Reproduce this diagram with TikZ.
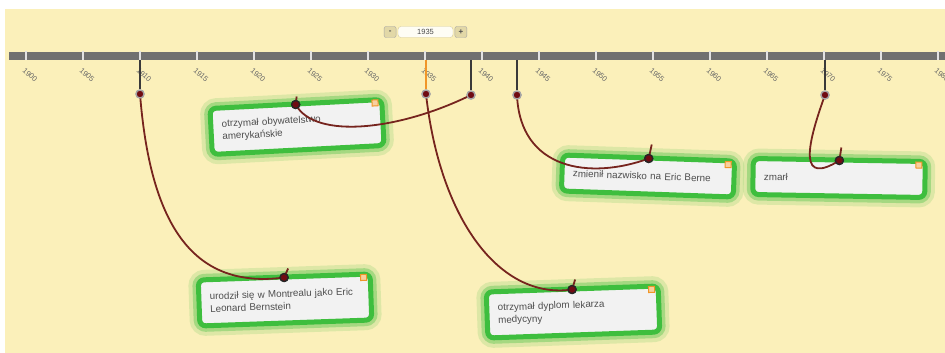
\documentclass[tikz,border=0pt]{standalone}
\usepackage{fontspec}
\setmainfont{Liberation Sans}
\usepackage{xcolor}
\usetikzlibrary{positioning, calc}

\definecolor{paper}{RGB}{251,240,186}
\definecolor{barGray}{RGB}{112,112,112}
\definecolor{stemGray}{RGB}{58,58,58}
\definecolor{linkRed}{RGB}{118,36,30}
\definecolor{dotRed}{RGB}{112,12,18}
\definecolor{glowGreen}{RGB}{62,190,62}
\definecolor{tagOrange}{RGB}{240,150,40}
\definecolor{txtGray}{RGB}{78,78,78}

\begin{document}
\begin{tikzpicture}[x=1pt, y=-1pt,
  event/.style={rectangle, rounded corners=6pt, draw=glowGreen, line width=5pt,
    fill=white!95!black, text width=150pt, align=left, inner xsep=11pt,
    font=\fontsize{9.8}{12.5}\selectfont, text=txtGray,
    preaction={draw=glowGreen!45!paper, line width=20pt, opacity=0.35},
    preaction={draw=glowGreen!70!paper, line width=12pt, opacity=0.55}},
  twoline/.style={event, minimum height=46pt},
  oneline/.style={event, minimum height=36pt},
  tag/.style={rectangle, draw=tagOrange, line width=1pt, fill=tagOrange!45!white,
    minimum size=6pt, inner sep=0pt},
  link/.style={draw=linkRed, line width=1.8pt},
  stem/.style={draw=stemGray, line width=2.2pt},
  tdot/.style={circle, fill=dotRed, draw=gray!70, line width=1.3pt,
    minimum size=8pt, inner sep=0pt},
  adot/.style={circle, fill=dotRed, draw=black!85, line width=1.3pt,
    minimum size=8pt, inner sep=0pt},
  btn/.style={rectangle, rounded corners=2pt, draw=black!35, fill=black!10!paper,
    minimum width=12pt, minimum height=11pt, inner sep=0pt,
    font=\fontsize{8}{8}\selectfont\bfseries, text=black!70},
  yearlabel/.style={font=\fontsize{7.5}{7.5}\selectfont, text=black!60, rotate=-42,
    inner sep=0pt},
]
\useasboundingbox (0,0) rectangle (945,353);
\clip (0,0) rectangle (945,353);
% ====== PAPER ======
\fill[paper] (5,9) rectangle (945,353);
%
% ====== YEAR SELECTOR ======
\node[rectangle, rounded corners=3pt, draw=black!15!paper, fill=white!85!paper,
  minimum width=55pt, minimum height=11pt, inner sep=0pt,
  font=\fontsize{7.5}{7.5}\selectfont, text=black!70] (field) at (425.5,32) {1935};
\node[btn, left=1.5pt of field] (minus) {-};
\node[btn, right=1.5pt of field] (plus) {+};
%
% ====== TIME AXIS ======
\fill[barGray] (9,52) rectangle (945,60);
\foreach \yr [count=\i from 0] in {1900,1905,...,1980} {
  \draw[white!80!barGray, line width=1.2pt] (26+57*\i,51.5) -- (26+57*\i,60.5);
  \node[yearlabel] at (30+57*\i,75) {\yr};
}
%
% ====== EVENT STEMS ======
\node[tdot] (d1910) at (140,94) {};
\node[tdot] (d1935) at (426,94) {};
\node[tdot] (d1939) at (471,95) {};
\node[tdot] (d1943) at (517,95) {};
\node[tdot] (d1970) at (825,95) {};
\draw[stem] (140,60) -- (d1910);
\draw[stem, draw=tagOrange] (426,60) -- (d1935);
\draw[stem] (471,60) -- (d1939);
\draw[stem] (517,60) -- (d1943);
\draw[stem] (825,60) -- (d1970);
%
% ====== EVENT BOXES ======
\node[twoline, rotate=3] (citizen) at (297,127)
  {otrzymał obywatelstwo\\amerykańskie};
\node[twoline, rotate=2] (born) at (285,300)
  {urodził się w Montrealu jako Eric\\Leonard Bernstein};
\node[twoline, rotate=2] (doctor) at (573,312)
  {otrzymał dyplom lekarza\\medycyny};
\node[oneline, rotate=-2] (rename) at (648,176)
  {zmienił nazwisko na Eric Berne};
\node[oneline, rotate=-1] (died) at (839,178) {zmarł};
\foreach \b/\r in {citizen/3, born/2, doctor/2, rename/-2, died/-1}
  \node[tag, rotate=\r] at ($(\b.north east)+(-9,6)$) {};
%
% ====== LINKS ======
\node[adot] (aCitizen) at ($(citizen.north)+(0,3)$) {};
\node[adot] (aBorn) at ($(born.north)+(0,3)$) {};
\node[adot] (aDoctor) at ($(doctor.north)+(0,3)$) {};
\node[adot] (aRename) at ($(rename.north)+(0,3)$) {};
\node[adot] (aDied) at ($(died.north)+(0,3)$) {};
\coordinate (tCitizen) at ($(aCitizen)+(1,-8)$);
\coordinate (tBorn) at ($(aBorn)+(4,-9)$);
\coordinate (tDoctor) at ($(aDoctor)+(3,-10)$);
\coordinate (tRename) at ($(aRename)+(3,-14)$);
\coordinate (tDied) at ($(aDied)+(2,-13)$);
\draw[link] (d1910.center) .. controls (150,220) and (190,290) .. (aBorn.center) -- (tBorn);
\draw[link] (d1935.center) .. controls (440,220) and (500,300) .. (aDoctor.center) -- (tDoctor);
\draw[link] (d1939.center) .. controls (400,130) and (315,140) .. (aCitizen.center) -- (tCitizen);
\draw[link] (d1943.center) .. controls (520,170) and (590,180) .. (aRename.center) -- (tRename);
\draw[link] (d1970.center) .. controls (805,150) and (800,185) .. (aDied.center) -- (tDied);
% dots again on top of the links
\foreach \d in {d1910,d1935,d1939,d1943,d1970}
  \node[tdot] at (\d) {};
\foreach \d in {aCitizen,aBorn,aDoctor,aRename,aDied}
  \node[adot] at (\d) {};
\end{tikzpicture}
\end{document}
